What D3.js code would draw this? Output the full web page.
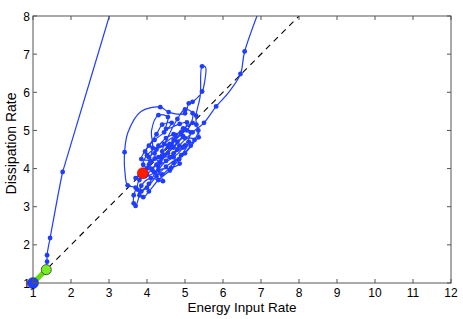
<!DOCTYPE html>
<html lang="en">
<head>
<meta charset="UTF-8">
<title>Energy vs Dissipation</title>
<style>
    html, body { margin: 0; background: #fff; }
    text { font-family: "Liberation Sans", Arial, sans-serif; fill: #000; }
</style>
</head>
<body>
<div class="chart"></div>
<script src="https://d3js.org/d3.v7.min.js"></script>
<script>
    // tick values
    var xTicks = [1, 2, 3, 4, 5, 6, 7, 8, 9, 10, 11, 12];
    var yTicks = [1, 2, 3, 4, 5, 6, 7, 8];

    // trajectory [energy input, dissipation, marker shown]
    var trajectory = [
        [1.35, 1.35, 0], [1.37, 1.56, 1], [1.37, 1.73, 1], [1.45, 2.18, 1], [1.78, 3.91, 1],
        [1.81, 4.01, 0], [3.31, 9.0, 0], [3.61, 10.0, 0], [4.5, 11.0, 0], [7.9, 11.0, 0], [7.45, 9.5, 0],
        [6.57, 7.07, 1], [6.46, 6.48, 1], [6.15, 6.0, 0], [5.82, 5.63, 1], [5.5, 5.2, 1],
        [5.2, 4.95, 1], [4.85, 4.6, 1], [4.7, 4.4, 1], [5.0, 4.6, 1], [5.36, 4.82, 1],
        [5.3, 5.15, 1], [5.29, 5.39, 1], [5.4, 5.9, 0], [5.45, 6.68, 1], [5.54, 6.66, 0],
        [5.52, 6.3, 0], [5.45, 6.02, 1], [5.2, 5.75, 1], [5.1, 5.71, 1], [5.0, 5.45, 1],
        [4.57, 5.48, 1], [4.35, 5.61, 1], [3.85, 5.5, 0], [3.5, 4.95, 0], [3.41, 4.43, 1],
        [3.42, 3.9, 0], [3.49, 3.56, 1], [3.7, 3.5, 1], [3.65, 3.3, 1], [3.65, 3.09, 1],
        [3.7, 3.02, 1], [3.8, 3.3, 1], [3.85, 3.55, 1], [4.1, 3.75, 1], [4.42, 3.67, 1],
        [4.3, 3.95, 1], [4.64, 4.02, 1], [4.86, 4.13, 1], [4.6, 4.3, 1], [4.2, 4.26, 1],
        [4.0, 4.0, 1], [4.15, 4.54, 1], [4.12, 5.0, 0], [4.3, 5.4, 1], [4.55, 5.35, 1],
        [4.5, 5.04, 1], [4.86, 5.17, 1], [5.05, 5.21, 1], [4.9, 4.9, 1], [4.55, 4.6, 1],
        [4.3, 4.3, 1], [4.05, 4.1, 1], [3.95, 3.8, 1], [4.2, 3.9, 1], [4.5, 4.2, 1],
        [4.8, 4.5, 1], [5.1, 4.7, 1], [4.9, 4.35, 1], [4.5, 4.05, 1], [4.25, 3.8, 1],
        [4.0, 3.5, 1], [3.85, 3.4, 1], [4.05, 3.6, 1], [4.3, 4.05, 1], [4.6, 4.55, 1],
        [4.75, 4.85, 1], [4.45, 4.65, 1], [4.2, 4.4, 1], [4.35, 4.15, 1], [4.7, 4.3, 1],
        [4.95, 4.55, 1], [5.15, 4.95, 1], [4.95, 5.05, 1], [4.7, 4.75, 1], [4.4, 4.45, 1],
        [4.8, 5.3, 1], [5.0, 5.55, 1], [5.2, 5.45, 1], [5.05, 5.0, 1], [4.7, 4.9, 1],
        [4.5, 4.8, 1], [4.3, 4.6, 1], [4.0, 4.35, 1], [3.9, 4.1, 1], [4.1, 4.0, 1],
        [4.4, 4.3, 1], [4.65, 4.6, 1], [4.9, 4.95, 1], [5.2, 5.2, 1], [5.35, 5.0, 1],
        [5.15, 4.6, 1], [4.85, 4.25, 1], [4.6, 3.95, 1], [4.3, 3.7, 1], [4.05, 3.4, 1],
        [3.9, 3.25, 1], [3.75, 3.45, 1], [3.8, 3.7, 1], [4.0, 3.85, 1], [4.25, 4.1, 1],
        [4.55, 4.4, 1], [4.8, 4.7, 1], [4.95, 4.85, 1], [4.7, 4.55, 1], [4.45, 4.35, 1],
        [4.15, 3.95, 1], [4.4, 3.85, 1], [4.7, 4.15, 1], [5.0, 4.4, 1], [5.25, 4.75, 1],
        [5.0, 4.8, 1], [4.6, 4.65, 1], [4.25, 4.5, 1], [4.05, 4.3, 1], [3.95, 4.45, 1],
        [4.2, 4.75, 1], [4.45, 4.95, 1], [4.65, 5.2, 1], [4.4, 5.15, 1], [4.25, 4.9, 1],
        [4.05, 4.6, 1], [3.85, 4.25, 1], [4.1, 4.2, 1], [3.9, 3.95, 1], [3.7, 3.75, 1],
        [3.89, 3.88, 1]
    ];

    var startPoint = [1, 1];
    var initPoint = [1.35, 1.35];
    var endPoint = [3.89, 3.88];
    var balanceLine = [[1, 1], [8, 8]];

    var W = 463, H = 319;
    var margin = { top: 16, right: 12, bottom: 36, left: 33 },
        width = W - margin.left - margin.right,
        height = H - margin.top - margin.bottom;

    var svg = d3.select('.chart')
        .append('svg')
        .attr('width', W)
        .attr('height', H);

    var g = svg.append('g')
        .attr('transform', `translate(${margin.left}, ${margin.top})`);

    var xScale = d3.scaleLinear().domain([1, 12]).range([0, width]);
    var yScale = d3.scaleLinear().domain([1, 8]).range([height, 0]);

    g.append('clipPath').attr('id', 'clip')
        .append('rect').attr('width', width).attr('height', height);

    var plot = g.append('g').attr('clip-path', 'url(#clip)');

    // y = x reference
    var straight = d3.line().x(d => xScale(d[0])).y(d => yScale(d[1]));
    plot.append('path')
        .attr('d', straight(balanceLine))
        .attr('fill', 'none')
        .attr('stroke', '#000')
        .attr('stroke-width', 1.1)
        .attr('stroke-dasharray', '6,5');

    // trajectory
    var curve = d3.line()
        .x(d => xScale(d[0]))
        .y(d => yScale(d[1]))
        .curve(d3.curveCatmullRom.alpha(0.5));

    plot.append('path')
        .attr('d', curve(trajectory))
        .attr('fill', 'none')
        .attr('stroke', '#1f3dff')
        .attr('stroke-width', 1.2);

    plot.selectAll('.dot')
        .data(trajectory.filter(d => d[2]))
        .enter().append('circle')
        .attr('class', 'dot')
        .attr('cx', d => xScale(d[0]))
        .attr('cy', d => yScale(d[1]))
        .attr('r', 2.4)
        .attr('fill', '#1f3dff');

    // start segment
    g.append('path')
        .attr('d', straight([startPoint, initPoint]))
        .attr('stroke', '#66dd11')
        .attr('stroke-width', 5);

    g.append('circle')
        .attr('cx', xScale(endPoint[0])).attr('cy', yScale(endPoint[1]))
        .attr('r', 5.5).attr('fill', '#ff1a00').attr('stroke', '#b00').attr('stroke-width', 0.6);
    g.append('circle')
        .attr('cx', xScale(initPoint[0])).attr('cy', yScale(initPoint[1]))
        .attr('r', 5).attr('fill', '#77ee22').attr('stroke', '#333').attr('stroke-width', 0.8);
    g.append('circle')
        .attr('cx', xScale(startPoint[0])).attr('cy', yScale(startPoint[1]))
        .attr('r', 5.5).attr('fill', '#1f3dff').attr('stroke', '#1030c0').attr('stroke-width', 0.6);

    // box and ticks, matlab style
    var axisColor = '#555';
    g.append('rect')
        .attr('width', width).attr('height', height)
        .attr('fill', 'none').attr('stroke', axisColor).attr('stroke-width', 1);

    xTicks.forEach(function (t) {
        var x = xScale(t);
        g.append('line').attr('x1', x).attr('x2', x).attr('y1', height).attr('y2', height - 4).attr('stroke', axisColor);
        g.append('line').attr('x1', x).attr('x2', x).attr('y1', 0).attr('y2', 4).attr('stroke', axisColor);
        g.append('text').attr('x', x).attr('y', height + 13.5)
            .attr('text-anchor', 'middle').style('font-size', '12px').text(t);
    });

    yTicks.forEach(function (t) {
        var y = yScale(t);
        g.append('line').attr('x1', 0).attr('x2', 4).attr('y1', y).attr('y2', y).attr('stroke', axisColor);
        g.append('line').attr('x1', width).attr('x2', width - 4).attr('y1', y).attr('y2', y).attr('stroke', axisColor);
        g.append('text').attr('x', -3).attr('y', y + 4.5)
            .attr('text-anchor', 'end').style('font-size', '12px').text(t);
    });

    g.append('text')
        .attr('x', width / 2).attr('y', height + 29)
        .attr('text-anchor', 'middle').style('font-size', '13.5px')
        .text('Energy Input Rate');

    g.append('text')
        .attr('transform', `translate(-17, ${height / 2 - 6}) rotate(-90)`)
        .attr('text-anchor', 'middle').style('font-size', '14px')
        .text('Dissipation Rate');
</script>
</body>
</html>
